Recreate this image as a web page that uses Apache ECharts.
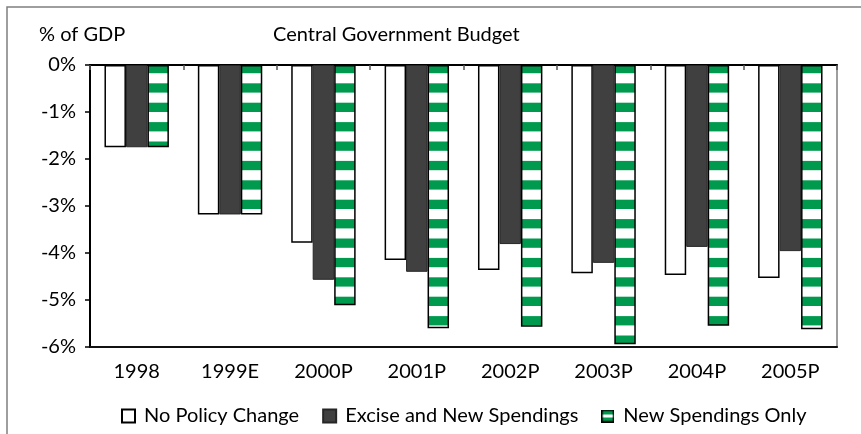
<!DOCTYPE html>
<html>
<head>
<meta charset="utf-8">
<script src="https://cdn.jsdelivr.net/npm/echarts@6/dist/echarts.min.js"></script>
<style>
  html, body { margin: 0; padding: 0; background: #fff; }
  #chart { width: 861px; height: 434px; }
</style>
</head>
<body>
<div id="chart"></div>
<script>
// Central government budget balance, % of GDP
const categories = ['1998', '1999E', '2000P', '2001P', '2002P', '2003P', '2004P', '2005P'];
const noPolicyChange = [-1.75, -3.18, -3.78, -4.15, -4.36, -4.43, -4.47, -4.53];
const exciseAndNewSpendings = [-1.75, -3.18, -4.57, -4.40, -3.81, -4.21, -3.87, -3.96];
const newSpendingsOnly = [-1.75, -3.18, -5.11, -5.60, -5.57, -5.94, -5.55, -5.62];
const seriesNames = ['No Policy Change', 'Excise and New Spendings', 'New Spendings Only'];
const yTicks = [-6, -5, -4, -3, -2, -1, 0];

const GREEN = '#009a4e';
const FONT = 'Lato, "DejaVu Sans", sans-serif';
const FS = 20;

// Horizontal green/white stripe fill for the third series
function stripePattern() {
  const c = document.createElement('canvas');
  c.width = 4;
  c.height = 97;
  const ctx = c.getContext('2d');
  ctx.fillStyle = '#ffffff';
  ctx.fillRect(0, 0, 4, 97);
  ctx.fillStyle = GREEN;
  for (let k = -1; k < 6; k++) ctx.fillRect(0, 5.7 + k * 19.4, 4, 9.3);
  return { image: c, repeat: 'repeat' };
}

// Legend swatch for the striped series
function stripeIcon() {
  const c = document.createElement('canvas');
  c.width = 13;
  c.height = 13;
  const ctx = c.getContext('2d');
  ctx.fillStyle = '#000';
  ctx.fillRect(0, 0, 13, 13);
  ctx.fillStyle = GREEN;
  ctx.fillRect(1.5, 1.5, 10, 10);
  ctx.fillStyle = '#fff';
  ctx.fillRect(1.5, 5, 10, 3);
  return 'image://' + c.toDataURL();
}

const chart = echarts.init(document.getElementById('chart'), null, { renderer: 'canvas' });

chart.setOption({
  animation: false,
  backgroundColor: '#ffffff',
  textStyle: { fontFamily: FONT, color: '#000' },
  graphic: [{
    type: 'rect',
    shape: { x: 7, y: 7, width: 900, height: 500 },
    style: { fill: 'none', stroke: '#7f7f7f', lineWidth: 1.5 },
    silent: true
  }],
  title: [
    { text: '% of GDP', left: 34, top: 20,
      textStyle: { fontFamily: FONT, fontSize: FS, fontWeight: 'normal', color: '#000' } },
    { text: 'Central Government Budget', left: 268, top: 20,
      textStyle: { fontFamily: FONT, fontSize: FS, fontWeight: 'normal', color: '#000' } }
  ],
  legend: {
    left: 116,
    top: 401,
    itemWidth: 13,
    itemHeight: 13,
    itemGap: 23,
    textStyle: { fontFamily: FONT, fontSize: FS, color: '#000', padding: [0, 0, 0, 4] },
    data: [
      { name: seriesNames[0], icon: 'rect' },
      { name: seriesNames[1], icon: 'rect' },
      { name: seriesNames[2], icon: stripeIcon() }
    ]
  },
  grid: {
    left: 90, right: 24, top: 65, bottom: 87,
    show: true, borderColor: '#7f7f7f', borderWidth: 1.5, backgroundColor: 'transparent'
  },
  xAxis: [
    {
      type: 'category',
      data: categories,
      position: 'top',
      axisLine: { show: true, onZero: false, lineStyle: { color: '#000', width: 2 } },
      axisTick: { show: true, inside: true, length: 5, interval: 0, lineStyle: { color: '#555', width: 1.5 } },
      axisLabel: { show: false },
      splitLine: { show: false }
    },
    {
      type: 'category',
      data: categories,
      position: 'bottom',
      axisLine: { show: true, onZero: false, lineStyle: { color: '#111', width: 2 } },
      axisTick: { show: false },
      axisLabel: { show: true, margin: 15, fontSize: FS, fontFamily: FONT, color: '#000' },
      splitLine: { show: false }
    }
  ],
  yAxis: {
    type: 'value',
    min: yTicks[0],
    max: yTicks[yTicks.length - 1],
    interval: 1,
    axisLine: { show: true, lineStyle: { color: '#000', width: 2 } },
    axisTick: { show: true, length: 5, lineStyle: { color: '#000', width: 1.5 } },
    axisLabel: { margin: 14, fontSize: FS, fontFamily: FONT, color: '#000',
      formatter: v => v + '%' },
    splitLine: { show: false }
  },
  series: [
    {
      name: seriesNames[0], type: 'bar', xAxisIndex: 0,
      data: noPolicyChange,
      barGap: '0%', barCategoryGap: '31%',
      itemStyle: { color: '#ffffff', borderColor: '#000', borderWidth: 1.5 }
    },
    {
      name: seriesNames[1], type: 'bar', xAxisIndex: 0,
      data: exciseAndNewSpendings,
      barGap: '0%', barCategoryGap: '31%',
      itemStyle: { color: '#404040', borderColor: '#262626', borderWidth: 1 }
    },
    {
      name: seriesNames[2], type: 'bar', xAxisIndex: 0,
      data: newSpendingsOnly,
      barGap: '0%', barCategoryGap: '31%',
      itemStyle: { color: stripePattern(), borderColor: '#000', borderWidth: 1.5 }
    }
  ]
});
</script>
</body>
</html>
